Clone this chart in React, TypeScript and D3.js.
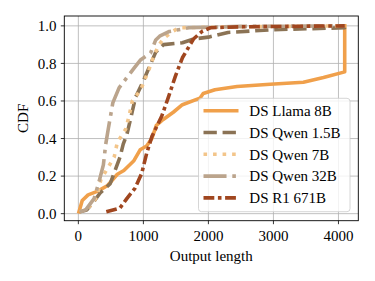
import React from 'react';
import * as d3 from 'd3';

// [output length, CDF] pairs
const llama8b: [number, number][] = [
  [10, 0.01], [60, 0.07], [150, 0.1], [300, 0.12], [450, 0.15], [600, 0.21], [700, 0.23],
  [850, 0.28], [950, 0.34], [1050, 0.36], [1130, 0.4], [1200, 0.47], [1300, 0.5], [1460, 0.54],
  [1600, 0.58], [1870, 0.615], [1920, 0.64], [2100, 0.66], [2440, 0.677], [2950, 0.689],
  [3460, 0.7], [3770, 0.725], [4096, 0.755], [4096, 1.0],
];
const qwen15b: [number, number][] = [
  [20, 0.01], [130, 0.02], [250, 0.07], [335, 0.11], [490, 0.16], [565, 0.23], [640, 0.3],
  [690, 0.37], [745, 0.42], [800, 0.5], [880, 0.62], [985, 0.695], [1090, 0.78], [1190, 0.86],
  [1310, 0.9], [1600, 0.91], [1770, 0.93], [2000, 0.94], [2300, 0.965], [3000, 0.98],
  [4096, 0.99], [4096, 1.0],
];
const qwen7b: [number, number][] = [
  [20, 0.01], [150, 0.03], [250, 0.07], [292, 0.1], [345, 0.18], [446, 0.24], [550, 0.3],
  [600, 0.38], [728, 0.45], [780, 0.52], [830, 0.6], [960, 0.66], [1088, 0.77], [1165, 0.845],
  [1242, 0.9], [1318, 0.935], [1450, 0.97], [1550, 0.99], [2500, 0.995], [4096, 1.0],
];
const qwen32b: [number, number][] = [
  [20, 0.01], [113, 0.02], [242, 0.08], [318, 0.17], [385, 0.26], [421, 0.37], [462, 0.455],
  [500, 0.53], [530, 0.59], [626, 0.67], [780, 0.74], [857, 0.775], [960, 0.82], [1110, 0.855],
  [1190, 0.925], [1250, 0.945], [1400, 0.97], [1700, 0.99], [2500, 0.997], [4096, 1.0],
];
const r1671b: [number, number][] = [
  [430, 0.01], [640, 0.03], [745, 0.08], [870, 0.135], [975, 0.215], [1000, 0.25], [1050, 0.32],
  [1130, 0.41], [1200, 0.46], [1283, 0.52], [1385, 0.62], [1490, 0.73], [1600, 0.83],
  [1770, 0.93], [1900, 0.97], [2030, 0.99], [2500, 0.995], [4096, 1.0],
];

const seriesNames = ['DS Llama 8B', 'DS Qwen 1.5B', 'DS Qwen 7B', 'DS Qwen 32B', 'DS R1 671B'];
const seriesData = [llama8b, qwen15b, qwen7b, qwen32b, r1671b];
const xTicks = [0, 1000, 2000, 3000, 4000];
const yTicks = [0, 0.2, 0.4, 0.6, 0.8, 1.0];

const colors = ['#f0a04b', '#8b7355', '#f3c58a', '#bba48c', '#a0461f'];
const lw = 3.6;
const dashes = [
  'none',
  `${3.7 * lw} ${1.6 * lw}`,
  `${1 * lw} ${1.65 * lw}`,
  `${6.4 * lw} ${1.6 * lw} ${1 * lw} ${1.6 * lw}`,
  `${3 * lw} ${1 * lw} ${1 * lw} ${1 * lw}`,
];

const W = 375;
const H = 281;
const plot = { left: 64.3, right: 358.3, top: 16, bottom: 220.7 };
const font = '"Liberation Serif", "Times New Roman", serif';

const App: React.FC = () => {
  const x = d3.scaleLinear().domain([-216, 4305]).range([plot.left, plot.right]);
  const y = d3.scaleLinear().domain([-0.0375, 1.0525]).range([plot.bottom, plot.top]);

  const line = d3.line<[number, number]>()
    .x(d => x(d[0]))
    .y(d => y(d[1]));

  const legend = { x: 198.5, y: 98.3, w: 151.5, h: 113.4, row0: 110.7, step: 21.8 };

  return (
    <svg
      width={W}
      height={H}
      style={{ position: 'absolute', left: 0, top: 0, background: '#fff' }}
      fontFamily={font}
    >
      <defs>
        <clipPath id="plot-clip">
          <rect x={plot.left} y={plot.top} width={plot.right - plot.left} height={plot.bottom - plot.top} />
        </clipPath>
      </defs>

      {/* grid */}
      {xTicks.map(t => (
        <line key={'gx' + t} x1={x(t)} x2={x(t)} y1={plot.top} y2={plot.bottom} stroke="#b0b0b0" strokeWidth={0.8} />
      ))}
      {yTicks.map(t => (
        <line key={'gy' + t} x1={plot.left} x2={plot.right} y1={y(t)} y2={y(t)} stroke="#b0b0b0" strokeWidth={0.8} />
      ))}

      {/* curves */}
      <g clipPath="url(#plot-clip)">
        {seriesData.map((d, i) => (
          <path
            key={seriesNames[i]}
            d={line(d) ?? ''}
            fill="none"
            stroke={colors[i]}
            strokeWidth={lw}
            strokeDasharray={dashes[i]}
            strokeLinejoin="round"
            strokeLinecap={i === 0 ? 'square' : 'butt'}
          />
        ))}
      </g>

      {/* spines */}
      <rect
        x={plot.left}
        y={plot.top}
        width={plot.right - plot.left}
        height={plot.bottom - plot.top}
        fill="none"
        stroke="#000"
        strokeWidth={0.9}
      />

      {/* x axis ticks */}
      {xTicks.map(t => (
        <g key={'xt' + t}>
          <line x1={x(t)} x2={x(t)} y1={plot.bottom} y2={plot.bottom + 3.5} stroke="#000" strokeWidth={0.8} />
          <text x={x(t)} y={240.5} textAnchor="middle" fontSize={15}>{t}</text>
        </g>
      ))}
      <text x={(plot.left + plot.right) / 2} y={261} textAnchor="middle" fontSize={15}>Output length</text>

      {/* y axis ticks */}
      {yTicks.map(t => (
        <g key={'yt' + t}>
          <line x1={plot.left - 3.5} x2={plot.left} y1={y(t)} y2={y(t)} stroke="#000" strokeWidth={0.8} />
          <text x={56.5} y={y(t)} dy="0.35em" textAnchor="end" fontSize={15}>{t.toFixed(1)}</text>
        </g>
      ))}
      <text
        transform={`translate(28,${(plot.top + plot.bottom) / 2}) rotate(-90)`}
        textAnchor="middle"
        fontSize={15}
      >
        CDF
      </text>

      {/* legend */}
      <rect
        x={legend.x}
        y={legend.y}
        width={legend.w}
        height={legend.h}
        rx={3}
        fill="#fff"
        fillOpacity={0.8}
        stroke="#cccccc"
        strokeWidth={0.8}
      />
      {seriesNames.map((name, i) => {
        const ly = legend.row0 + i * legend.step;
        return (
          <g key={'lg' + name}>
            <line
              x1={203.5}
              x2={238.5}
              y1={ly}
              y2={ly}
              stroke={colors[i]}
              strokeWidth={lw}
              strokeDasharray={dashes[i]}
            />
            <text x={249.3} y={ly} dy="0.35em" fontSize={15}>{name}</text>
          </g>
        );
      })}
    </svg>
  );
};

export default App;
